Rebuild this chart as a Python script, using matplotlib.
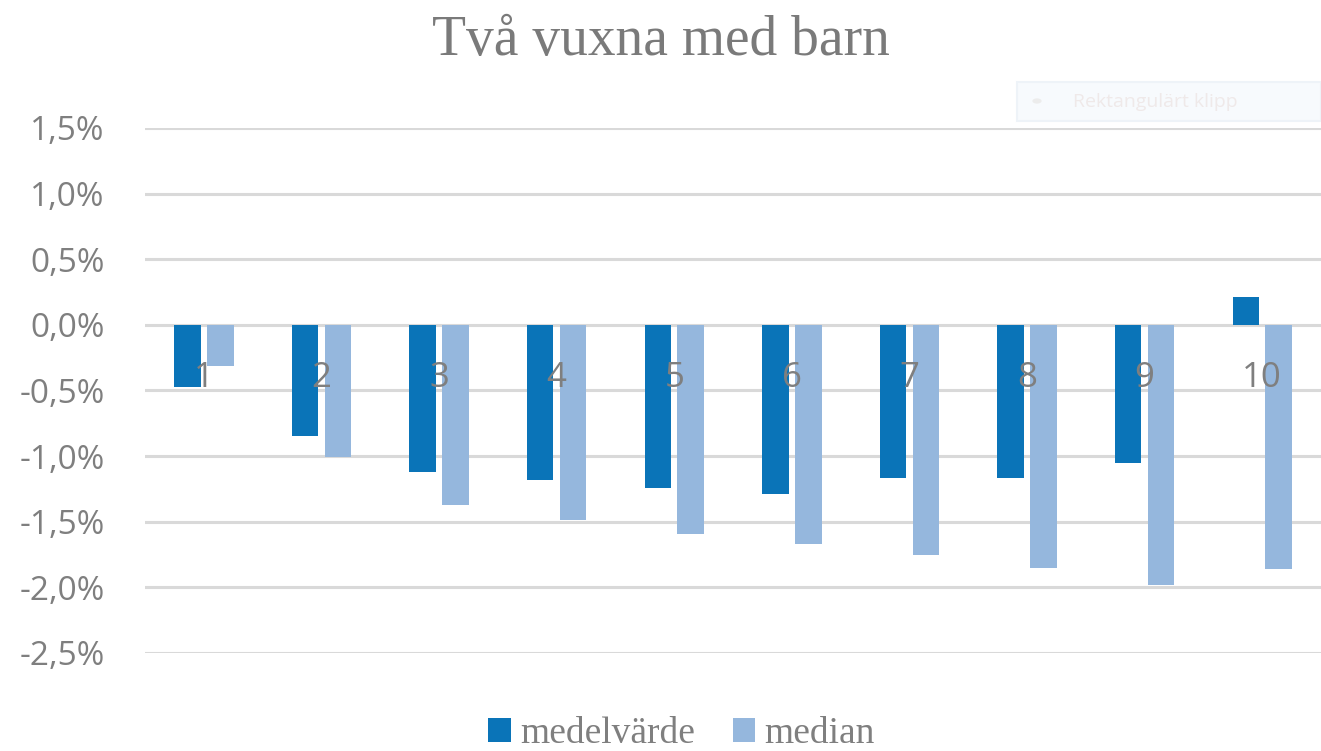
import matplotlib
matplotlib.use("Agg")
import matplotlib.pyplot as plt
import numpy as np
from matplotlib.ticker import FuncFormatter, FixedLocator
from matplotlib.patches import Patch, FancyBboxPatch, Circle

title = "Två vuxna med barn"
categories = ["1", "2", "3", "4", "5", "6", "7", "8", "9", "10"]
medelvarde = [-0.47, -0.85, -1.12, -1.18, -1.24, -1.29, -1.17, -1.17, -1.05, 0.21]
median = [-0.31, -1.01, -1.37, -1.49, -1.59, -1.67, -1.75, -1.85, -1.98, -1.86]
series_names = ["medelvärde", "median"]
yticks = [-2.5, -2.0, -1.5, -1.0, -0.5, 0.0, 0.5, 1.0, 1.5]

c_dark = "#0a74b8"
c_light = "#95b7dd"
gray = "#7f7f7f"

fig = plt.figure(figsize=(13.21, 7.51), dpi=100)
ax = fig.add_axes([0.1098, 0.1305, 0.8902, 0.6991])

x = np.arange(1, len(categories) + 1)
w = 0.225
off = 0.14
ax.bar(x - off, medelvarde, width=w, color=c_dark, zorder=3)
ax.bar(x + off, median, width=w, color=c_light, zorder=3)

ax.set_xlim(0.5, len(categories) + 0.5)
ax.set_ylim(-2.5, 1.5)
ax.yaxis.set_major_locator(FixedLocator(yticks))
ax.yaxis.set_major_formatter(FuncFormatter(lambda v, p: f"{v:.1f}%".replace(".", ",")))
ax.grid(axis="y", color="#d9d9d9", linewidth=2.2, zorder=0)
ax.tick_params(axis="y", length=0, pad=29, labelsize=24, labelcolor=gray)
for lab in ax.get_yticklabels():
    lab.set_fontfamily("Open Sans")

ax.set_xticks([])
for xi, lab in zip(x, categories):
    ax.annotate(lab, xy=(xi, 0), xytext=(0, -62), textcoords="offset pixels",
                ha="center", va="baseline", fontsize=25, family="Open Sans",
                color=gray, zorder=6)
for s in ax.spines.values():
    s.set_visible(False)
ax.set_axisbelow(True)

fig.text(0.5, 0.927, title, ha="center", va="baseline", fontsize=40,
         family="Liberation Serif", color="#7a7a7a")

handles = [Patch(facecolor=c_dark), Patch(facecolor=c_light)]
leg = fig.legend(handles, series_names, loc="lower center", bbox_to_anchor=(0.516, -0.045),
                 ncol=2, frameon=False, handlelength=0.6, handleheight=0.6,
                 handletextpad=0.25, columnspacing=1.0,
                 prop={"family": "Liberation Serif", "size": 27})
for t in leg.get_texts():
    t.set_color(gray)

# faint screenshot overlay box
box = FancyBboxPatch((1017 / 1321, 1 - 121 / 751), 304 / 1321, 39 / 751,
                     boxstyle="square,pad=0", transform=fig.transFigure,
                     facecolor="#f7fafd", edgecolor="#eef3f8", linewidth=1.5, zorder=10)
fig.add_artist(box)
fig.add_artist(Circle((1037 / 1321, 1 - 101 / 751), 0.0035, transform=fig.transFigure,
                      facecolor="#ececec", edgecolor="none", zorder=11))
fig.text(1073 / 1321, 1 - 102 / 751, "Rektangulärt klipp", ha="left", va="center",
         fontsize=14, family="Open Sans", color="#efe9e9", zorder=12)

fig.savefig("out.png", dpi=100, facecolor="white")
